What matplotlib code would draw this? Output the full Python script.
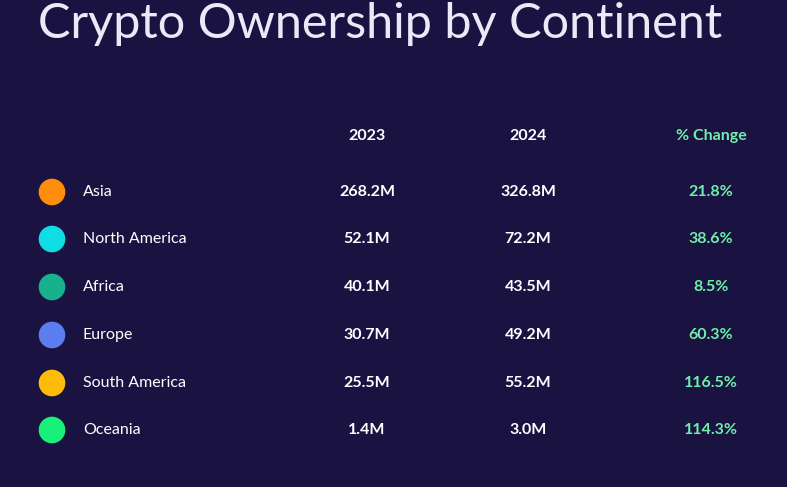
import matplotlib.pyplot as plt

continents = ["Asia", "North America", "Africa", "Europe", "South America", "Oceania"]
own_2023 = [268.2, 52.1, 40.1, 30.7, 25.5, 1.4]
own_2024 = [326.8, 72.2, 43.5, 49.2, 55.2, 3.0]
pct_change = [21.8, 38.6, 8.5, 60.3, 116.5, 114.3]
dot_colors = ["#ff8c0a", "#0fdde6", "#17b18e", "#5b7df0", "#ffbb0a", "#18f07a"]

bg = "#1a1240"
green = "#6ef0a8"

fig = plt.figure(figsize=(7.87, 4.87), dpi=100, facecolor=bg)
ax = fig.add_axes([0, 0, 1, 1])
ax.set_facecolor(bg)
ax.set_xlim(0, 787)
ax.set_ylim(487, 0)
ax.axis("off")

ax.text(38, 24, "Crypto Ownership by Continent", color="#ece8f8", fontsize=35,
        family="Lato", va="center", ha="left")

hy = 136
ax.text(367, hy, "2023", color="white", fontsize=11.5, weight="bold", ha="center", va="center", family="Lato")
ax.text(528, hy, "2024", color="white", fontsize=11.5, weight="bold", ha="center", va="center", family="Lato")
ax.text(711, hy, "% Change", color=green, fontsize=11.5, weight="bold", ha="center", va="center", family="Lato")

row_y = [192, 239, 287, 335, 383, 430]
ax.scatter([52] * len(row_y), row_y, s=330, c=dot_colors, zorder=3)
for i, name in enumerate(continents):
    y = row_y[i]
    ax.text(83, y, name, color="white", fontsize=11.5, ha="left", va="center", family="Lato")
    ax.text(367, y, f"{own_2023[i]:.1f}M", color="white", fontsize=11.5, weight="bold",
            ha="center", va="center", family="Lato")
    ax.text(528, y, f"{own_2024[i]:.1f}M", color="white", fontsize=11.5, weight="bold",
            ha="center", va="center", family="Lato")
    ax.text(711, y, f"{pct_change[i]:.1f}%", color=green, fontsize=11.5, weight="bold",
            ha="center", va="center", family="Lato")

fig.savefig("out.png", dpi=100, facecolor=bg)
